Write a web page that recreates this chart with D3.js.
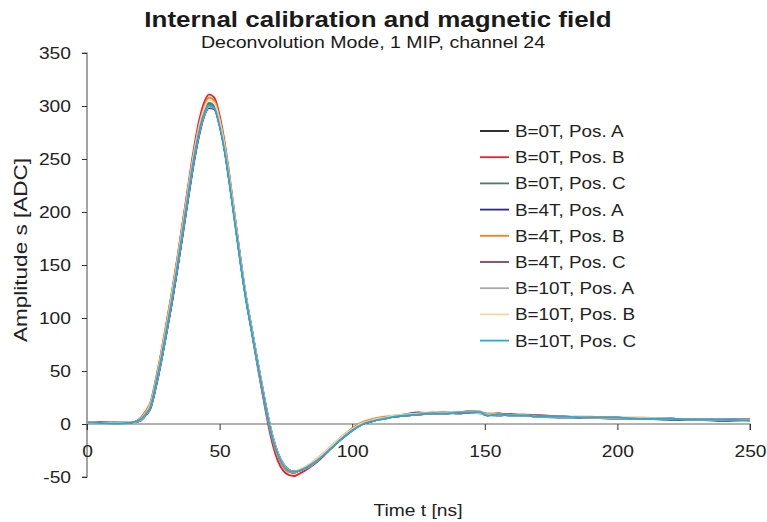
<!DOCTYPE html>
<html>
<head>
<meta charset="utf-8">
<script src="https://cdn.jsdelivr.net/npm/d3@7"></script>
<style>
  body { margin: 0; background: #fff; }
  svg { font-family: "Liberation Sans", Arial, Helvetica, sans-serif; }
</style>
</head>
<body>
<div id="chart"></div>
<script>
const width = 767, height = 522;

// time samples [ns]
const time = [0,5,10,15,18,20,22,24,26,28,30,32,34,36,38,40,42,44,46,48,50,52,54,56,58,60,62,64,66,68,70,72,74,76,78,80,
  84,88,92,96,100,104,108,112,116,120,125,130,135,140,145,148,151,155,160,165,170,180,190,200,210,220,230,240,250];

const b0PosA = [1,1.5,1,1,2,3,8,16,36,60,87,115,146,179,212,244,271,291,301,299,283,258,225,189,152,119,91,63,36,10,-12,-28,-38,-43,-45,-44,
  -39,-32,-23,-14,-6,0,3,6,7,8,9,10,10,11,12,11,8,10,8,8,7,7,6,5,5,5,4,4,4];
const b0PosB = [1,1.5,1,1.5,2,5,11,20,42,67,95,124,155,189,222,255,283,302,311,308,291,264,229,191,154,119,89,59,31,4,-19,-35,-44,-48,-49,-47,
  -41,-33,-23,-13,-5,1,4,6,7,8,10,10,11,10,11,10,9,9,9,8,8,7,6,6,5,5,4,4,4];
const b0PosC = [1,1,1,1.5,2,4,9,18,39,63,90,119,150,183,216,248,275,294,303,300,283,257,223,187,150,117,89,61,34,8,-14,-30,-40,-45,-46,-44,
  -39,-31,-22,-13,-5,1,4,6,7,8,9,10,10,10,11,11,9,9,8,8,7,7,6,6,5,5,4,4,4];
const b4PosA = [1,1,1.5,1,2,3,8,15,35,59,86,114,145,177,210,242,269,289,298,297,282,257,224,188,152,119,91,63,36,10,-12,-28,-38,-44,-46,-44,
  -39,-32,-23,-14,-6,0,3,5,7,9,11,10,10,11,11,11,9,8,9,8,7,6,6,6,5,4,4,3,4];
const b4PosB = [1,1,1.5,1,2,5,12,21,43,68,96,124,155,188,220,252,279,298,308,305,288,262,228,191,154,120,91,62,34,7,-15,-31,-40,-45,-46,-44,
  -38,-30,-21,-12,-4,2,5,7,8,9,10,11,11,11,12,11,10,10,9,9,8,7,7,6,6,5,4,4,4];
const b4PosC = [1.5,1,1,1,2,3,8,16,36,60,87,115,146,178,211,243,270,290,299,298,282,257,224,188,151,118,90,62,35,9,-13,-29,-39,-44,-45,-44,
  -39,-31,-22,-13,-6,0,3,6,7,8,9,10,11,10,11,11,9,9,9,8,8,7,6,6,5,5,4,4,4];
const b10PosA = [1,1,1,1.5,2,3,8,16,36,60,87,116,147,179,212,244,271,290,299,298,283,258,225,189,153,120,92,64,37,11,-11,-27,-37,-43,-45,-44,
  -40,-32,-23,-14,-6,0,3,5,7,8,9,10,10,11,12,12,9,9,8,8,7,7,6,5,5,5,4,4,4];
const b10PosB = [1.5,1,1,1.5,2,4,10,19,40,65,92,121,152,185,218,250,277,296,306,303,286,260,226,189,152,119,90,62,35,9,-13,-29,-39,-44,-45,-43,
  -38,-30,-21,-12,-5,1,4,6,8,9,10,10,11,11,11,10,9,9,8,8,7,7,6,6,6,5,4,4,3];
const b10PosC = [1.5,1,0.5,1,2,4,9,17,38,62,89,117,148,181,214,246,273,292,301,298,281,256,222,186,150,117,89,61,34,8,-14,-29,-39,-44,-45,-44,
  -39,-32,-23,-14,-6,0,3,5,7,8,9,10,10,11,11,11,8,9,8,8,7,7,6,6,5,5,4,4,3];

const seriesNames = ["B=0T, Pos. A","B=0T, Pos. B","B=0T, Pos. C","B=4T, Pos. A","B=4T, Pos. B","B=4T, Pos. C","B=10T, Pos. A","B=10T, Pos. B","B=10T, Pos. C"];
const seriesValues = [b0PosA, b0PosB, b0PosC, b4PosA, b4PosB, b4PosC, b10PosA, b10PosB, b10PosC];
const seriesColors = ["#1a1a1a","#e8212b","#4a7d69","#2b2b8c","#f58025","#8b3f6b","#a8a8a8","#fdd49e","#27a9d6"];

const xTicks = [0, 50, 100, 150, 200, 250];
const yTicks = [-50, 0, 50, 100, 150, 200, 250, 300, 350];

const margin = { left: 87, right: 17, top: 53, bottom: 45 };

// the original lettering is a wider Helvetica, widen the glyphs a bit
const widen = (sel, factor) => sel.each(function () {
  const w = this.getComputedTextLength();
  d3.select(this)
    .attr("textLength", w * factor)
    .attr("lengthAdjust", "spacingAndGlyphs");
});

const svg = d3.select("#chart")
  .append("svg")
    .attr("width", width)
    .attr("height", height);

const xScale = d3.scaleLinear().domain([0, 250]).range([margin.left, width - margin.right]);
const yScale = d3.scaleLinear().domain([-50, 350]).range([height - margin.bottom, margin.top]);

// Title
svg.append("text")
  .attr("x", 378).attr("y", 27)
  .attr("text-anchor", "middle")
  .style("font-size", "22px")
  .style("font-weight", "bold")
  .style("fill", "#1a1a1a")
  .text("Internal calibration and magnetic field")
  .call(widen, 1.18);
svg.append("text")
  .attr("x", 373).attr("y", 48)
  .attr("text-anchor", "middle")
  .style("font-size", "17px")
  .style("fill", "#1a1a1a")
  .text("Deconvolution Mode, 1 MIP, channel 24")
  .call(widen, 1.15);

// y axis
const yAxis = svg.append("g")
  .attr("transform", `translate(${margin.left},0)`)
  .call(d3.axisLeft(yScale).tickValues(yTicks).tickFormat(d => String(d)).tickSize(5).tickPadding(11));
yAxis.selectAll("text").style("font-size", "17px").style("fill", "#222").call(widen, 1.13);

// x axis, drawn at y = 0
const xAxis = svg.append("g")
  .attr("transform", `translate(0,${yScale(0)})`)
  .call(d3.axisBottom(xScale).tickValues(xTicks).tickSize(6).tickPadding(15));
xAxis.selectAll("text").style("font-size", "17px").style("fill", "#222").call(widen, 1.13);

svg.selectAll(".domain").attr("stroke", "#666").attr("stroke-width", 1.2);
svg.selectAll(".tick line").attr("stroke", "#333");
yAxis.select(".domain").attr("d", `M-5,${yScale(350)}H0V${yScale(-50)}H-5`);
xAxis.select(".domain").attr("d", `M${xScale(0)},6V0H${xScale(250)}V6`);

// axis labels
svg.append("text")
  .attr("x", 418).attr("y", 516)
  .attr("text-anchor", "middle")
  .style("font-size", "17px")
  .style("fill", "#222")
  .text("Time t [ns]")
  .call(widen, 1.13);
svg.append("text")
  .attr("transform", "translate(27,250) rotate(-90)")
  .attr("text-anchor", "middle")
  .style("font-size", "18px")
  .style("fill", "#222")
  .text("Amplitude s [ADC]")
  .call(widen, 1.25);

// curves
const lineGen = d3.line()
  .x((d, i) => xScale(time[i]))
  .y(d => yScale(d))
  .curve(d3.curveMonotoneX);

svg.append("g")
  .selectAll("path")
  .data(seriesValues)
  .join("path")
    .attr("d", lineGen)
    .attr("fill", "none")
    .attr("stroke", (d, i) => seriesColors[i])
    .attr("stroke-width", 1.9);

// legend
const legend = svg.append("g")
  .attr("transform", "translate(480,131)");
const rows = legend.selectAll("g")
  .data(seriesNames)
  .join("g")
    .attr("transform", (d, i) => `translate(0,${i * 26.2})`);
rows.append("line")
  .attr("x1", 0).attr("x2", 29)
  .attr("stroke", (d, i) => seriesColors[i])
  .attr("stroke-width", 1.8);
rows.append("text")
  .attr("x", 35)
  .attr("dy", "0.35em")
  .style("font-size", "17px")
  .style("fill", "#222")
  .text(d => d)
  .call(widen, 1.11);
</script>
</body>
</html>
